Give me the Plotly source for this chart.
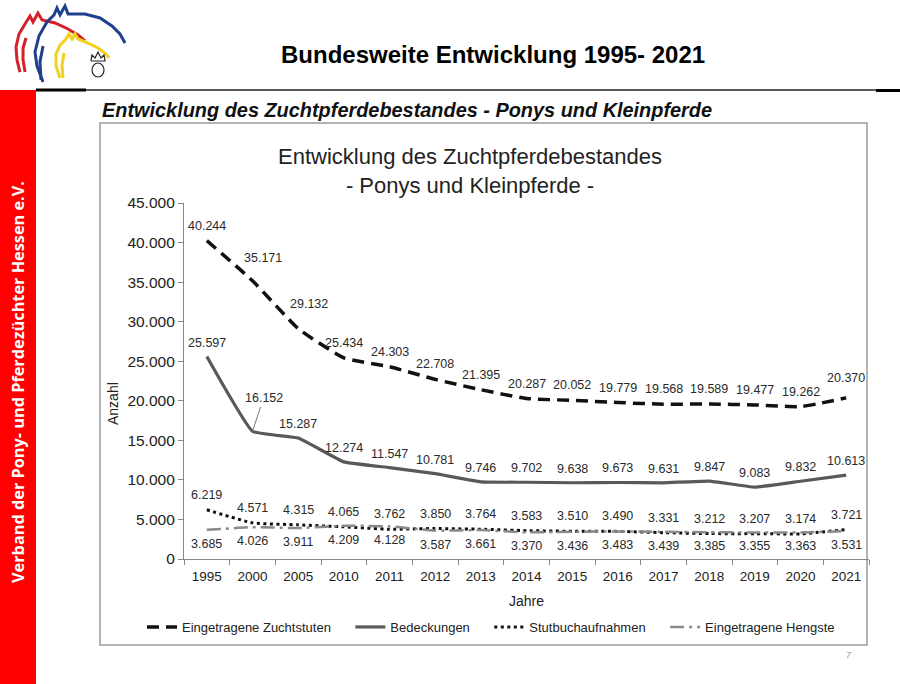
import plotly.graph_objects as go

# ---------------- data ----------------
years = ["1995", "2000", "2005", "2010", "2011", "2012", "2013", "2014",
         "2015", "2016", "2017", "2018", "2019", "2020", "2021"]
zuchtstuten = [40244, 35171, 29132, 25434, 24303, 22708, 21395, 20287,
               20052, 19779, 19568, 19589, 19477, 19262, 20370]
bedeckungen = [25597, 16152, 15287, 12274, 11547, 10781, 9746, 9702,
               9638, 9673, 9631, 9847, 9083, 9832, 10613]
stutbuch = [6219, 4571, 4315, 4065, 3762, 3850, 3764, 3583,
            3510, 3490, 3331, 3212, 3207, 3174, 3721]
hengste = [3685, 4026, 3911, 4209, 4128, 3587, 3661, 3370,
           3436, 3483, 3439, 3385, 3355, 3363, 3531]
series_names = ["Eingetragene Zuchtstuten", "Bedeckungen",
                "Stutbuchaufnahmen", "Eingetragene Hengste"]

W, H = 900, 684
FONT = "Liberation Sans, Arial, sans-serif"


def px(x):
    return x / W


def py(y):
    return 1 - y / H


def fmt(v):
    return f"{v:,}".replace(",", ".")


fig = go.Figure()

styles = [
    dict(color="#111111", width=3.5, dash="12px,7px", smooth=0.45),
    dict(color="#595959", width=3.2, dash="solid", smooth=0.3),
    dict(color="#111111", width=3, dash="3px,3.5px", smooth=0.4),
    dict(color="#8a8a8a", width=2.5, dash="14px,5px,3px,5px", smooth=0.4),
]
all_series = [zuchtstuten, bedeckungen, stutbuch, hengste]
pad = "\u00a0" * 4
for k, (name, vals, st) in enumerate(zip(series_names, all_series, styles)):
    fig.add_trace(go.Scatter(
        x=years, y=vals, name=name + (pad if k < 3 else ""), mode="lines",
        line=dict(color=st["color"], width=st["width"], dash=st["dash"],
                  shape="spline", smoothing=st["smooth"]),
        hovertemplate=name + ": %{y}<extra></extra>",
    ))

# ---------------- data labels ----------------
label_font = dict(family=FONT, size=12.5, color="#2a2a2a")
label_shift = [15, 14, 15, -14]
extra_dx = {(0, 1): 10, (0, 2): 11}
extra_dy = {(0, 1): 8, (0, 2): 10, (0, 14): 5}
annotations = []
for si, vals in enumerate(all_series):
    for i, v in enumerate(vals):
        if si == 1 and i == 1:
            annotations.append(dict(
                x=i, y=v, xref="x", yref="y", text=fmt(v),
                showarrow=True, arrowhead=0, arrowwidth=1, arrowcolor="#777",
                ax=11, ay=-33, font=label_font, standoff=0))
            continue
        annotations.append(dict(
            x=i, y=v, xref="x", yref="y", text=fmt(v), showarrow=False,
            xanchor="center", yanchor="middle",
            xshift=extra_dx.get((si, i), 0),
            yshift=label_shift[si] + extra_dy.get((si, i), 0),
            font=label_font))

# ---------------- slide texts ----------------
def ptext(x, y, text, font, **kw):
    d = dict(x=px(x), y=py(y), xref="paper", yref="paper", showarrow=False,
             text=text, font=font, xanchor="center", yanchor="middle")
    d.update(kw)
    return d


annotations += [
    ptext(493, 55, "<b>Bundesweite Entwicklung 1995- 2021</b>",
          dict(family=FONT, size=24, color="#000")),
    ptext(100, 110,
          "<b><i>Entwicklung des Zuchtpferdebestandes - Ponys und Kleinpferde</i></b>",
          dict(family=FONT, size=19.9, color="#111"), xanchor="left"),
    ptext(470, 171,
          "Entwicklung des Zuchtpferdebestandes<br>- Ponys und Kleinpferde -",
          dict(family=FONT, size=22, color="#222")),
    ptext(113, 404, "Anzahl", dict(family=FONT, size=14, color="#222"),
          textangle=-90),
    ptext(18, 382, "<b>Verband der Pony- und Pferdezüchter Hessen e.V.</b>",
          dict(family="Open Sans, sans-serif", size=16.3, color="#fff"),
          textangle=-90),
    ptext(849, 655, "<i>7</i>", dict(family=FONT, size=9, color="#999")),
]

# ---------------- shapes ----------------
shapes = [
    dict(type="rect", xref="paper", yref="paper", x0=0, x1=px(36),
         y0=0, y1=py(90), fillcolor="#ff0000", line=dict(width=0), layer="below"),
    dict(type="line", xref="paper", yref="paper", x0=px(36), x1=1,
         y0=py(90), y1=py(90), line=dict(color="#222", width=1.5)),
    dict(type="line", xref="paper", yref="paper", x0=px(36), x1=px(86),
         y0=py(90), y1=py(90), line=dict(color="#000", width=3)),
    dict(type="line", xref="paper", yref="paper", x0=px(876), x1=1,
         y0=py(90.5), y1=py(90.5), line=dict(color="#000", width=3)),
    dict(type="rect", xref="paper", yref="paper", x0=px(100), x1=px(867),
         y0=py(645), y1=py(123), line=dict(color="#9a9a9a", width=1.5),
         layer="below"),
]


def path(points):
    (x0, y0), rest = points[0], points[1:]
    s = f"M {px(x0):.4f},{py(y0):.4f}"
    for (x, y) in rest:
        s += f" L {px(x):.4f},{py(y):.4f}"
    return s


logo = [
    ("#d4202a", [(20, 72), (17, 60), (16, 47), (19, 34), (25, 24), (30, 16),
                 (33, 22), (38, 13), (42, 20), (55, 23), (68, 29), (78, 35), (85, 41)]),
    ("#d4202a", [(25, 72), (23, 60), (23, 48), (26, 38)]),
    ("#1f3f8f", [(43, 82), (37, 66), (35, 52), (39, 36), (47, 22), (54, 15),
                 (57, 8), (60, 15), (65, 6), (68, 14), (85, 14), (100, 18),
                 (112, 26), (120, 34), (125, 43)]),
    ("#1f3f8f", [(41, 80), (40, 62), (43, 46)]),
    ("#f2d21b", [(60, 78), (56, 66), (56, 54), (60, 45), (66, 39), (69, 34),
                 (72, 39), (75, 34), (78, 39), (88, 43), (98, 48), (106, 54), (109, 58)]),
    ("#f2d21b", [(63, 78), (62, 65), (64, 53)]),
]
for col, pts in logo:
    shapes.append(dict(type="path", xref="paper", yref="paper",
                       path=path(pts), line=dict(color=col, width=3)))
shapes.append(dict(type="path", xref="paper", yref="paper",
                   path=path([(91, 61), (92, 55), (95, 58), (98, 52), (101, 58),
                              (104, 55), (105, 61), (91, 61)]),
                   line=dict(color="#222", width=1.2)))
shapes.append(dict(type="circle", xref="paper", yref="paper",
                   x0=px(92), x1=px(104), y0=py(77), y1=py(63),
                   line=dict(color="#222", width=1.2)))

fig.update_layout(
    width=W, height=H,
    margin=dict(l=0, r=0, t=0, b=0, autoexpand=False),
    paper_bgcolor="white", plot_bgcolor="white",
    separators=",.",
    font=dict(family=FONT, color="#222"),
    showlegend=True,
    legend=dict(orientation="h", x=px(491), xanchor="center", y=py(627),
                yanchor="middle", font=dict(family=FONT, size=13, color="#222"),
                bgcolor="rgba(0,0,0,0)", itemwidth=30),
    xaxis=dict(domain=[px(184), px(869)], type="category",
               range=[-0.5, 14.5], tickson="boundaries",
               ticks="outside", ticklen=5, tickcolor="#888",
               ticklabelstandoff=5,
               showline=True, linecolor="#888", linewidth=1.2,
               showgrid=False, zeroline=False,
               tickfont=dict(family=FONT, size=13.5, color="#222"),
               title=dict(text="Jahre", standoff=12,
                          font=dict(family=FONT, size=14, color="#222"))),
    yaxis=dict(domain=[py(559), py(203)], range=[0, 45000], dtick=5000,
               tickformat=",", ticks="outside", ticklen=5, tickcolor="#888",
               showline=True, linecolor="#888", linewidth=1.2,
               showgrid=False, zeroline=False,
               tickfont=dict(family=FONT, size=15.5, color="#222")),
    annotations=annotations,
    shapes=shapes,
)

fig.write_html(
    "out.html",
    config={"displayModeBar": False},
    post_script="document.body.style.margin='0';document.body.style.overflow='hidden';",
)
